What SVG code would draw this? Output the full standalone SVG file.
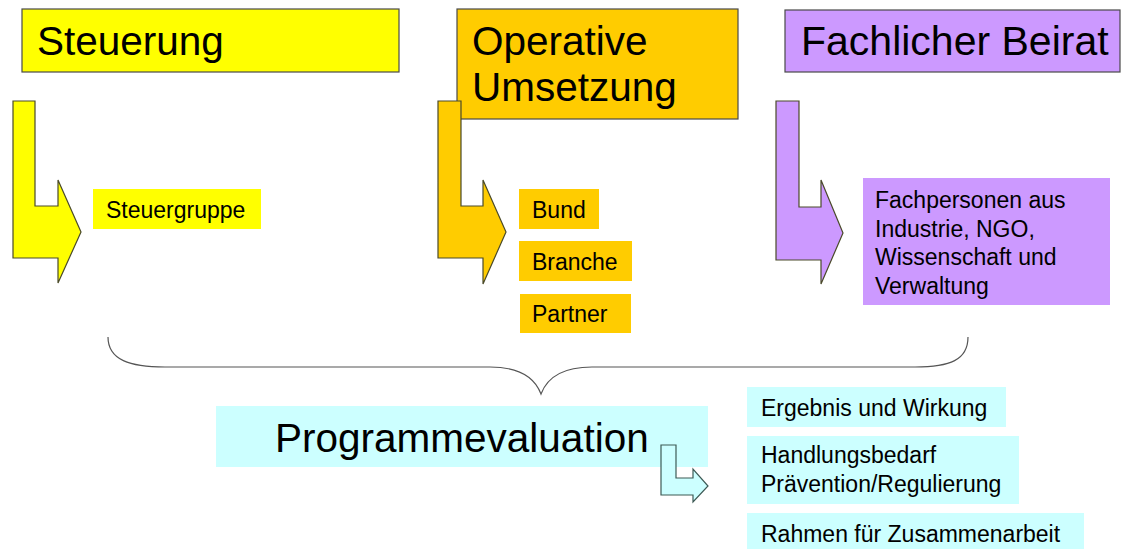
<svg xmlns="http://www.w3.org/2000/svg" width="1123" height="549" viewBox="0 0 1123 549">
<style>
.t{font-family:"Liberation Sans",Arial,sans-serif;fill:#000}
.big{font-size:40.5px}
.sm{font-size:23px}
.hdr{stroke:#4a4a4a;stroke-width:1.2}
.arr{stroke:#4a4a2a;stroke-width:1.2}
.y{fill:#FFFF00}
.o{fill:#FFCC00}
.p{fill:#CC99FF}
.c{fill:#CCFFFF}
</style>
<rect width="1123" height="549" fill="#fff"/>
<g id="steuerung">
<rect class="y hdr" x="22" y="9" width="377" height="63"/>
<text class="t big" x="37" y="55">Steuerung</text>
</g>
<g id="operative">
<rect class="o hdr" x="457" y="9" width="281" height="110"/>
<text class="t big" x="472" y="55">Operative</text>
<text class="t big" x="472" y="101">Umsetzung</text>
</g>
<g id="beirat">
<rect class="p hdr" x="785" y="10" width="335" height="62"/>
<text class="t big" x="801" y="55" style="font-size:41px">Fachlicher Beirat</text>
</g>
<g id="steuergruppe">
<rect class="y" x="93" y="189" width="168" height="40"/>
<text class="t sm" x="106" y="218">Steuergruppe</text>
</g>
<g id="bund">
<rect class="o" x="519" y="189" width="80" height="40"/>
<text class="t sm" x="532" y="218">Bund</text>
</g>
<g id="branche">
<rect class="o" x="519" y="241" width="113" height="40"/>
<text class="t sm" x="532" y="270">Branche</text>
</g>
<g id="partner">
<rect class="o" x="520" y="294" width="111" height="39"/>
<text class="t sm" x="532" y="322">Partner</text>
</g>
<g id="fachpersonen">
<rect class="p" x="863" y="178" width="247" height="127"/>
<text class="t sm" x="875" y="208">Fachpersonen aus</text>
<text class="t sm" x="875" y="237">Industrie, NGO,</text>
<text class="t sm" x="875" y="265">Wissenschaft und</text>
<text class="t sm" x="875" y="294">Verwaltung</text>
</g>
<g id="programmevaluation">
<rect class="c" x="216" y="406" width="492" height="61"/>
<text class="t big" x="275" y="452">Programmevaluation</text>
</g>
<g id="ergebnis">
<rect class="c" x="747" y="387" width="259" height="40"/>
<text class="t sm" x="761" y="416">Ergebnis und Wirkung</text>
</g>
<g id="handlungsbedarf">
<rect class="c" x="747" y="436" width="272" height="68"/>
<text class="t sm" x="761" y="463">Handlungsbedarf</text>
<text class="t sm" x="761" y="492">Prävention/Regulierung</text>
</g>
<g id="rahmen">
<rect class="c" x="747" y="513" width="337" height="40"/>
<text class="t sm" x="761" y="542">Rahmen für Zusammenarbeit</text>
</g>
<g id="connectors">
<polygon class="y arr" points="13,101 35,101 35,206 58,206 58,180 81,232 58,283 58,258 13,258"/>
<polygon class="o arr" points="438,101 461,101 461,206 483,206 483,180 506,232 483,284 483,258 438,258"/>
<polygon class="p arr" points="776,101 799,101 799,207 821,207 821,180 843,233 821,284 821,260 776,260"/>
<path d="M108,337 C108,360 130,367 165,367 L490,367 C520,367 535,378 541,394 C547,378 562,367 592,367 L915,367 C950,367 968,360 968,337" fill="none" stroke="#555" stroke-width="1.2"/>
<polygon class="c" stroke="#3d5a55" stroke-width="1.2" points="661,445 676,445 676,478 693,478 693,469 708,486 693,502 693,495 661,495"/>
</g>
</svg>
